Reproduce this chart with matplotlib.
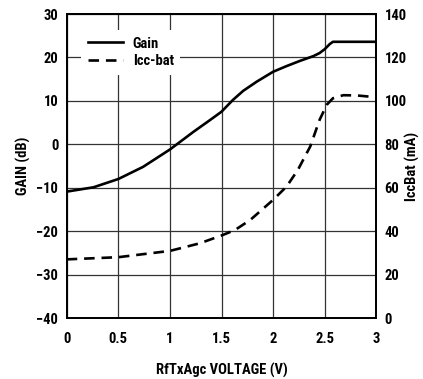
import matplotlib
matplotlib.use("Agg")
import matplotlib.pyplot as plt

plt.rcParams['font.family'] = ['Roboto Condensed', 'PT Sans Narrow', 'DejaVu Sans']
plt.rcParams['font.weight'] = 'bold'

gain_v = [0.0, 0.26, 0.5, 0.74, 1.0, 1.23, 1.39, 1.5, 1.61, 1.71, 1.84, 2.0, 2.13, 2.26, 2.39, 2.45, 2.5, 2.55, 2.58, 2.7, 3.0]
gain_db = [-10.9, -9.9, -8.0, -5.2, -1.2, 2.9, 5.6, 7.5, 10.2, 12.3, 14.4, 16.7, 18.0, 19.2, 20.3, 21.0, 21.9, 23.1, 23.6, 23.6, 23.6]

icc_v = [0.0, 0.5, 1.0, 1.29, 1.5, 1.63, 1.78, 2.0, 2.13, 2.24, 2.36, 2.45, 2.52, 2.58, 2.68, 2.81, 2.99]
icc_ma = [27.0, 28.0, 30.9, 34.4, 38.0, 40.5, 45.2, 54.4, 60.5, 68.2, 79.0, 91.2, 98.2, 101.2, 102.6, 102.5, 101.7]

x_ticks = [0, 0.5, 1, 1.5, 2, 2.5, 3]
x_labels = ["0", "0.5", "1", "1.5", "2", "2.5", "3"]
gain_ticks = [-40, -30, -20, -10, 0, 10, 20, 30]
icc_ticks = [0, 20, 40, 60, 80, 100, 120, 140]

fs = 10.5

fig = plt.figure(figsize=(4.23, 3.79), dpi=100)
ax = fig.add_axes([66.7/423, 1-318/379, (376.3-66.7)/423, (318-14)/379])
ax2 = ax.twinx()

ax.plot(gain_v, gain_db, color='black', lw=1.9, label='Gain', solid_joinstyle='round')
l2, = ax2.plot(icc_v, icc_ma, color='black', lw=1.9, ls=(0, (4, 2.6)), label='Icc-bat')

ax.set_xlim(0, 3)
ax.set_ylim(-40, 30)
ax2.set_ylim(0, 140)
ax.set_xticks(x_ticks, x_labels)
ax.set_yticks(gain_ticks)
ax2.set_yticks(icc_ticks)
ax.grid(True, color='#333333', lw=0.9)
ax.set_axisbelow(True)
ax.tick_params(axis='x', length=0, labelsize=fs, pad=10)
ax.tick_params(axis='y', length=0, labelsize=fs, pad=6)
ax2.tick_params(axis='y', length=0, labelsize=fs, pad=6)
for a in (ax, ax2):
    for s in a.spines.values():
        s.set_linewidth(1.3)
        s.set_color('black')

ax.set_xlabel("RfTxAgc VOLTAGE (V)", fontsize=fs, fontweight='bold', labelpad=12)
ax.set_ylabel("GAIN (dB)", fontsize=fs, fontweight='bold', labelpad=4)
ax2.set_ylabel("IccBat (mA)", fontsize=fs, fontweight='bold', labelpad=-1)

h1, lab1 = ax.get_legend_handles_labels()
leg = ax2.legend(h1 + [l2], lab1 + ['Icc-bat'], loc='upper left',
                 bbox_to_anchor=((81-66.7)/309.6, (318-30)/304),
                 frameon=True, fontsize=fs, handlelength=2.4, labelspacing=0.25,
                 borderpad=0.45, handletextpad=0.7, borderaxespad=0, fancybox=False)
leg.get_frame().set_edgecolor('none')
leg.get_frame().set_facecolor('white')
leg.get_frame().set_alpha(1)

fig.savefig("out.png", dpi=100)
